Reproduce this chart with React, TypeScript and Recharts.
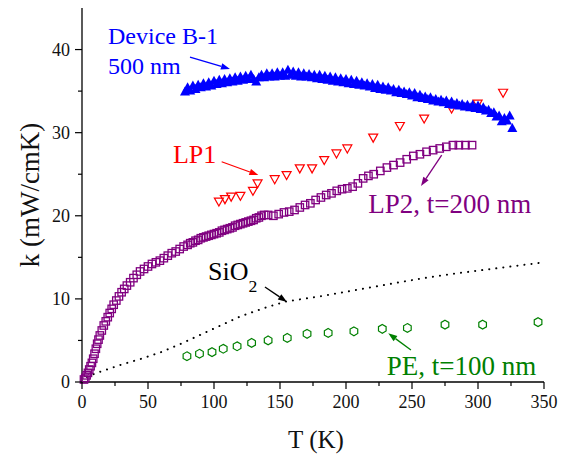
import { ScatterChart, Scatter, XAxis, YAxis, ReferenceLine, ReferenceDot } from 'recharts';

const FONT = '"Liberation Serif", "Times New Roman", Tinos, serif';

// Device B-1, 500 nm (filled blue triangles)
const deviceT = [78, 80, 82, 84, 86, 88, 90, 92, 94, 96, 98, 100, 102, 104, 106, 108, 110, 112, 114, 116, 118, 120, 122, 124, 126, 128, 130, 132, 134, 136, 138, 140, 142, 144, 146, 148, 150, 152, 154, 156, 158, 160, 162, 164, 166, 168, 170, 172, 174, 176, 178, 180, 182, 184, 186, 188, 190, 192, 194, 196, 198, 200, 202, 204, 206, 208, 210, 212, 214, 216, 218, 220, 222, 224, 226, 228, 230, 232, 234, 236, 238, 240, 242, 244, 246, 248, 250, 252, 254, 256, 258, 260, 262, 264, 266, 268, 270, 272, 274, 276, 278, 280, 282, 284, 286, 288, 290, 292, 294, 296, 298, 300, 302, 304, 306, 308, 310, 312, 314, 316, 318, 320, 322, 324, 326];
const deviceK = [34.9, 35.4, 35.0, 35.6, 35.2, 35.7, 35.4, 35.9, 35.5, 36.0, 35.6, 36.2, 35.8, 36.3, 35.9, 36.4, 36.0, 36.5, 36.1, 36.6, 36.2, 36.7, 36.3, 36.8, 36.4, 36.9, 36.4, 36.1, 36.6, 36.9, 36.6, 37.1, 36.7, 37.1, 36.7, 37.2, 36.8, 37.2, 36.8, 37.5, 36.9, 37.3, 36.8, 37.2, 36.7, 37.1, 36.7, 37.0, 36.6, 36.9, 36.5, 36.9, 36.4, 36.8, 36.3, 36.7, 36.2, 36.6, 36.1, 36.5, 36.0, 36.4, 35.9, 36.3, 35.8, 36.2, 35.7, 36.0, 35.6, 35.9, 35.5, 35.8, 35.3, 35.7, 35.2, 35.5, 35.1, 35.4, 35.0, 35.2, 34.8, 35.1, 34.7, 34.9, 34.6, 34.8, 34.4, 34.7, 34.2, 34.5, 34.1, 34.3, 34.0, 34.2, 33.8, 34.0, 33.7, 33.9, 33.6, 33.8, 33.4, 33.7, 33.3, 33.5, 33.2, 33.4, 33.1, 33.3, 33.0, 33.3, 32.9, 33.2, 32.8, 33.0, 32.6, 32.7, 32.3, 32.4, 31.9, 32.0, 31.3, 31.7, 31.4, 32.0, 30.5];

// LP1 (open red down-triangles)
const lp1T = [103.7, 108.3, 113, 120, 129.5, 133, 146, 155, 165, 174.3, 183.5, 192.8, 201, 220.6, 240.8, 259.2, 280, 299.7, 319];
const lp1K = [21.7, 22.0, 22.3, 22.4, 23.0, 23.9, 24.4, 24.9, 25.7, 25.7, 26.7, 27.5, 28.1, 29.4, 30.8, 31.7, 32.9, 33.5, 34.8];

// LP2, t=200 nm (open purple squares)
const lp2T = [1.5, 2.5, 3.5, 4.5, 5.5, 6.5, 7.5, 8.5, 9.5, 10.5, 11.5, 12.5, 13.5, 15, 16.5, 18, 19.5, 21, 22.5, 24, 26, 28, 30, 32, 34, 36.5, 39, 41.5, 44, 47, 50, 53, 56, 59, 62, 65, 68, 71, 74, 77, 80, 82, 84, 86, 88, 90, 92, 94, 96, 98, 100, 102, 104, 106, 108, 110, 112, 114, 116, 118, 120, 122, 124, 126, 128, 130, 132, 134, 136, 138, 141, 145, 149, 153, 157, 161, 165, 169, 173, 177, 181, 185, 189, 193, 197, 201, 205, 209, 213, 217, 221, 226, 231, 236, 241, 246, 251, 256, 261, 266, 271, 276, 281, 285.5, 290.5, 295.5];
const lp2K = [0.3, 0.5, 0.8, 1.1, 1.5, 1.9, 2.3, 2.8, 3.4, 4.0, 4.6, 5.1, 5.6, 6.2, 6.8, 7.3, 7.8, 8.3, 8.8, 9.3, 9.8, 10.3, 10.8, 11.2, 11.6, 12.0, 12.5, 12.9, 13.3, 13.6, 13.9, 14.2, 14.4, 14.6, 14.9, 15.2, 15.5, 15.7, 16.0, 16.3, 16.5, 16.7, 16.8, 17.0, 17.1, 17.3, 17.4, 17.5, 17.6, 17.7, 17.8, 17.9, 18.0, 18.2, 18.3, 18.4, 18.5, 18.6, 18.8, 18.9, 19.0, 19.1, 19.2, 19.3, 19.4, 19.5, 19.7, 19.8, 20.0, 20.1, 20.1, 20.0, 20.2, 20.4, 20.5, 20.7, 21.0, 21.3, 21.5, 21.9, 22.2, 22.5, 22.7, 23.0, 23.2, 23.3, 23.5, 23.9, 24.5, 24.8, 25.0, 25.4, 25.8, 26.1, 26.4, 26.8, 27.2, 27.4, 27.7, 27.9, 28.1, 28.3, 28.5, 28.5, 28.5, 28.5];

// SiO2 (dotted line)
const sio2T = [0, 3, 8, 15, 30, 45, 60, 75, 90, 105, 120, 140, 155, 180, 205, 230, 255, 280, 305, 330, 350];
const sio2K = [0, 0.5, 0.9, 1.3, 2.1, 2.8, 3.6, 4.6, 5.7, 6.8, 7.9, 9.0, 9.7, 10.3, 11.0, 11.7, 12.4, 13.0, 13.5, 14.0, 14.4];

// PE, t=100 nm (open green hexagons)
const peT = [79.5, 89, 98.5, 107, 117.5, 128.5, 141, 155.5, 170.5, 186.5, 206, 227.5, 246.5, 275, 303.5, 345.5];
const peK = [3.1, 3.4, 3.6, 4.0, 4.3, 4.7, 5.0, 5.3, 5.8, 5.9, 6.1, 6.4, 6.5, 6.9, 6.9, 7.2];

const xTicks = [0, 25, 50, 75, 100, 125, 150, 175, 200, 225, 250, 275, 300, 325, 350];
const yTicks = [0, 5, 10, 15, 20, 25, 30, 35, 40];

const zip = (ts: number[], ks: number[]) => ts.map((t, i) => ({ t, k: ks[i] }));

const BottomTick = ({ x, y, payload }: any) => {
  const major = payload.value % 50 === 0;
  return (
    <g>
      <line x1={x} x2={x} y1={y} y2={y + (major ? 7 : 4)} stroke="#000" strokeWidth={1.2} />
      {major && (
        <text x={x} y={y + 26} textAnchor="middle" fontSize={18} style={{ fontFamily: FONT }} fill="#111">
          {payload.value}
        </text>
      )}
    </g>
  );
};

const TopTick = ({ x, y, payload }: any) => {
  const major = payload.value % 50 === 0;
  return <line x1={x} x2={x} y1={y} y2={y + (major ? 7 : 4)} stroke="#000" strokeWidth={1.2} />;
};

const LeftTick = ({ x, y, payload }: any) => {
  const major = payload.value % 10 === 0;
  return (
    <g>
      <line x1={x - (major ? 7 : 4)} x2={x} y1={y} y2={y} stroke="#000" strokeWidth={1.2} />
      {major && (
        <text x={x - 12} y={y + 6} textAnchor="end" fontSize={18} style={{ fontFamily: FONT }} fill="#111">
          {payload.value}
        </text>
      )}
    </g>
  );
};

const RightTick = ({ x, y, payload }: any) => {
  const major = payload.value % 10 === 0;
  return <line x1={x - (major ? 7 : 4)} x2={x} y1={y} y2={y} stroke="#000" strokeWidth={1.2} />;
};

const upTriangle = ({ cx, cy }: any) => (
  <polygon points={`${cx},${cy - 5.5} ${cx - 5},${cy + 3.5} ${cx + 5},${cy + 3.5}`} fill="#0000ff" />
);
const downTriangle = ({ cx, cy }: any) => (
  <polygon points={`${cx - 4.5},${cy - 3.5} ${cx + 4.5},${cy - 3.5} ${cx},${cy + 4.5}`} fill="none" stroke="#ff0000" strokeWidth={1.2} />
);
const square = ({ cx, cy }: any) => (
  <rect x={cx - 3.7} y={cy - 3.7} width={7.4} height={7.4} fill="none" stroke="#800080" strokeWidth={1.3} />
);
const hexagon = ({ cx, cy }: any) => {
  const pts = [-90, -30, 30, 90, 150, 210]
    .map((a) => `${cx + 4.4 * Math.cos((a * Math.PI) / 180)},${cy + 4.4 * Math.sin((a * Math.PI) / 180)}`)
    .join(' ');
  return <polygon points={pts} fill="none" stroke="#008000" strokeWidth={1.2} />;
};
const noDot = () => <g />;

const arrow = (color: string) => ({ x1, y1, x2, y2 }: any) => {
  const a = Math.atan2(y2 - y1, x2 - x1);
  const L = 9;
  const W = 3.2;
  const bx = x2 - L * Math.cos(a);
  const by = y2 - L * Math.sin(a);
  const pts = `${x2},${y2} ${bx + W * Math.sin(a)},${by - W * Math.cos(a)} ${bx - W * Math.sin(a)},${by + W * Math.cos(a)}`;
  return (
    <g>
      <line x1={x1} y1={y1} x2={bx} y2={by} stroke={color} strokeWidth={1.3} />
      <polygon points={pts} fill={color} />
    </g>
  );
};

const label = (text: string, color: string, size: number, sub?: string) => ({ cx, cy }: any) => (
  <text x={cx} y={cy} fill={color} fontSize={size} style={{ fontFamily: FONT }}>
    {text}
    {sub && (
      <tspan fontSize={size * 0.68} dy={size * 0.45}>
        {sub}
      </tspan>
    )}
  </text>
);

export default function App() {
  return (
    <div style={{ position: 'absolute', left: 0, top: 0, width: 570, height: 459, background: '#fff', fontFamily: FONT }}>
      <ScatterChart width={570} height={459} margin={{ top: 8, right: 26, bottom: 0, left: 0 }}>
        <XAxis
          type="number"
          dataKey="t"
          domain={[0, 350]}
          ticks={xTicks}
          interval={0}
          height={77}
          tickSize={0}
          tickMargin={0}
          tickLine={false}
          tick={BottomTick}
          axisLine={{ stroke: '#000', strokeWidth: 1.3 }}
          label={{ value: 'T (K)', position: 'insideBottom', offset: 11, dx: 3, fontSize: 25, style: { fontFamily: FONT }, fill: '#111' }}
        />
        <XAxis
          xAxisId="top"
          orientation="top"
          type="number"
          dataKey="t"
          domain={[0, 350]}
          ticks={xTicks}
          interval={0}
          height={0}
          tickSize={0}
          tickMargin={0}
          tickLine={false}
          tick={TopTick}
          axisLine={{ stroke: '#000', strokeWidth: 1.3 }}
        />
        <YAxis
          type="number"
          dataKey="k"
          domain={[0, 45]}
          ticks={yTicks}
          interval={0}
          width={82}
          tickSize={0}
          tickMargin={0}
          tickLine={false}
          tick={LeftTick}
          axisLine={{ stroke: '#000', strokeWidth: 1.3 }}
          label={{ value: 'k (mW/cmK)', angle: -90, position: 'center', dx: -12, fontSize: 27, style: { fontFamily: FONT }, fill: '#111' }}
        />
        <YAxis
          yAxisId="right"
          orientation="right"
          type="number"
          dataKey="k"
          domain={[0, 45]}
          ticks={yTicks}
          interval={0}
          width={0}
          tickSize={0}
          tickMargin={0}
          tickLine={false}
          tick={RightTick}
          axisLine={{ stroke: '#000', strokeWidth: 1.3 }}
        />

        <Scatter
          data={zip(sio2T, sio2K)}
          line={{ stroke: '#000', strokeWidth: 2, strokeDasharray: '0.1 7', strokeLinecap: 'round' }}
          shape={noDot}
          isAnimationActive={false}
        />
        <Scatter data={zip(peT, peK)} shape={hexagon} isAnimationActive={false} />
        <Scatter data={zip(lp2T, lp2K)} shape={square} isAnimationActive={false} />
        <Scatter data={zip(lp1T, lp1K)} shape={downTriangle} isAnimationActive={false} />
        <Scatter data={zip(deviceT, deviceK)} shape={upTriangle} isAnimationActive={false} />

        <ReferenceDot x={19.7} y={40.67} shape={label('Device B-1', '#0000ff', 24)} />
        <ReferenceDot x={19.7} y={37.06} shape={label('500 nm', '#0000ff', 24)} />
        <ReferenceLine segment={[{ x: 81.8, y: 39.1 }, { x: 112.1, y: 37.66 }]} shape={arrow('#0000ff')} />

        <ReferenceDot x={68.9} y={26.35} shape={label('LP1', '#ff0000', 26)} />
        <ReferenceLine segment={[{ x: 105.8, y: 26.5 }, { x: 133.6, y: 24.9 }]} shape={arrow('#ff0000')} />

        <ReferenceDot x={216.9} y={20.39} shape={label('LP2, t=200 nm', '#800080', 27)} />
        <ReferenceLine segment={[{ x: 272.5, y: 27.3 }, { x: 256.8, y: 23.58 }]} shape={arrow('#800080')} />

        <ReferenceDot x={95.5} y={12.27} shape={label('SiO', '#000', 26, '2')} />
        <ReferenceLine segment={[{ x: 138.6, y: 11.43 }, { x: 155.3, y: 9.63 }]} shape={arrow('#000')} />

        <ReferenceDot x={230.8} y={0.84} shape={label('PE, t=100 nm', '#008000', 27)} />
        <ReferenceLine segment={[{ x: 249.2, y: 3.85 }, { x: 232, y: 5.86 }]} shape={arrow('#008000')} />
      </ScatterChart>
    </div>
  );
}
